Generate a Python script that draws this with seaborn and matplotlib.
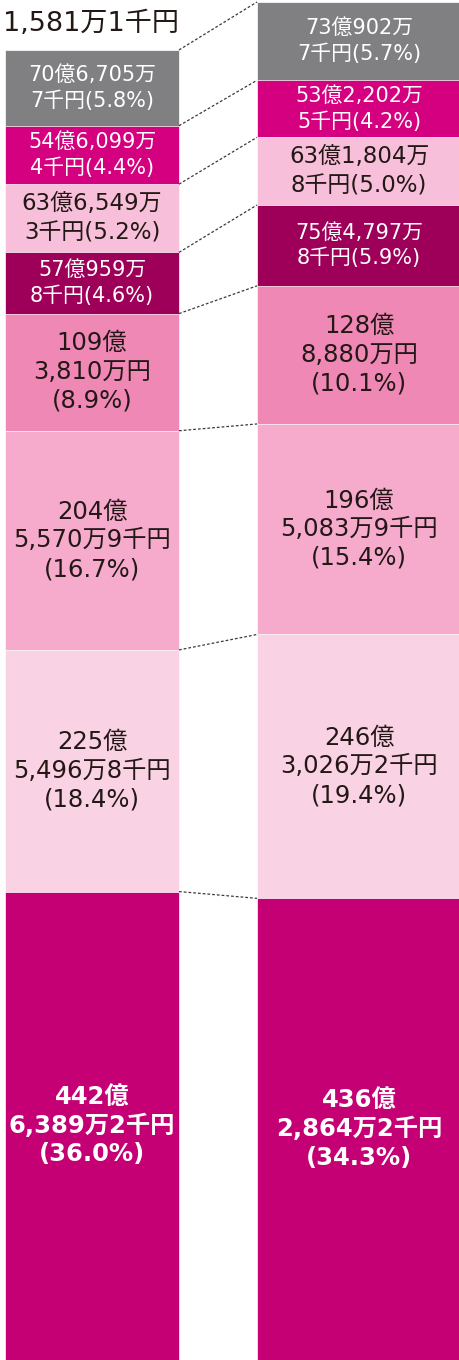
import matplotlib
matplotlib.use("Agg")
import matplotlib.pyplot as plt
import seaborn as sns
import pandas as pd

# amounts in 千円, listed from the top segment down to the bottom one
years = ["left", "right"]
items = ["gray", "magenta", "light", "dark", "mid", "pink", "pale", "deep"]
left_values = [7067057, 5460994, 6365493, 5709598, 10938100, 20455709, 22554968, 44263892]
right_values = [7309027, 5322025, 6318048, 7547978, 12888800, 19650839, 24630262, 43628642]

left_labels = ["70億6,705万\n7千円(5.8%)", "54億6,099万\n4千円(4.4%)", "63億6,549万\n3千円(5.2%)",
               "57億959万\n8千円(4.6%)", "109億\n3,810万円\n(8.9%)", "204億\n5,570万9千円\n(16.7%)",
               "225億\n5,496万8千円\n(18.4%)", "442億\n6,389万2千円\n(36.0%)"]
right_labels = ["73億902万\n7千円(5.7%)", "53億2,202万\n5千円(4.2%)", "63億1,804万\n8千円(5.0%)",
                "75億4,797万\n8千円(5.9%)", "128億\n8,880万円\n(10.1%)", "196億\n5,083万9千円\n(15.4%)",
                "246億\n3,026万2千円\n(19.4%)", "436億\n2,864万2千円\n(34.3%)"]
total_tail = "1,581万1千円"

colors = ["#808083", "#D5007F", "#F7BFD9", "#9E0059", "#F088B6", "#F6ABCD", "#F9D3E4", "#C40074"]
white_text = [True, True, False, True, False, False, False, True]

sns.set_style("white")
plt.rcParams["font.family"] = ["DejaVu Sans", "Noto Sans CJK JP"]


def cumulative(vals):
    # top of each segment, in 億円
    out = []
    for i in range(len(vals)):
        out.append(sum(vals[i:]) / 1e5)
    return out


left_cum = cumulative(left_values)
right_cum = cumulative(right_values)

rows = []
for year, cum in zip(years, [left_cum, right_cum]):
    for item, c in zip(items, cum):
        rows.append({"year": year, "item": item, "cum": c})
df = pd.DataFrame(rows)

fig = plt.figure(figsize=(4.59, 13.6), dpi=100)
ax = fig.add_axes([0, 0, 1, 1])

sns.barplot(data=df, x="year", y="cum", hue="item", hue_order=items, order=years,
            palette=colors, dodge=False, width=0.6905, saturation=1, legend=False,
            edgecolor="white", linewidth=0.5, ax=ax)

# right bar is wider and runs off the edge
for p in ax.patches:
    if p.get_x() > 0.5:
        p.set_x(0.6548)
        p.set_width(0.818)

ax.set_xlim(-0.3651, 1.4563)
ax.set_ylim(5.4, 1274.8)
ax.axis("off")

# dotted connectors between bars
for a, b in zip(left_cum, right_cum):
    ax.plot([0.3452, 0.6548], [a, b], color="#3a3a3a", lw=0.9, ls=(0, (2.2, 1.6)))

# segment labels
for cum, vals, labels, xc in [(left_cum, left_values, left_labels, 0.0),
                              (right_cum, right_values, right_labels, 1.0595)]:
    for i, lab in enumerate(labels):
        top = cum[i]
        bottom = cum[i + 1] if i + 1 < len(cum) else 0
        if i == len(labels) - 1:
            bottom = 6
        mid = (top + bottom) / 2
        big = lab.count("\n") == 2
        if big:
            size = 17.5
        elif white_text[i]:
            size = 15
        else:
            size = 16.5
        ax.text(xc, mid, lab, ha="center", va="center", multialignment="center",
                fontsize=size, linespacing=1.25 if big else 1.33,
                color="white" if white_text[i] else "#231815",
                fontweight="bold" if i == len(labels) - 1 else "normal")

ax.text(3 / 459, 1 - 24 / 1360, total_tail, transform=ax.transAxes,
        ha="left", va="center", fontsize=19.5, color="#231815")

fig.savefig("out.png", dpi=100)
